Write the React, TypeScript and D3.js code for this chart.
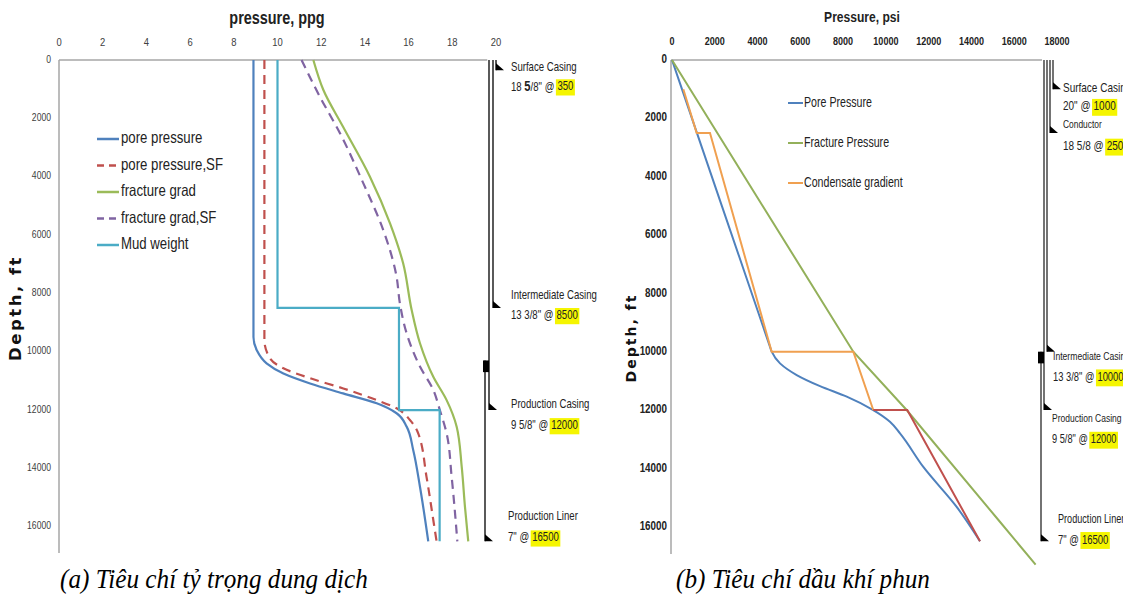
import React, { useEffect, useRef } from "react";
import * as d3 from "d3";

const W = 1123;
const H = 595;
const SANS = "'Liberation Sans',Arial,sans-serif";

// ---------- Left chart (ppg) ----------
const ppgTicks = [0, 2, 4, 6, 8, 10, 12, 14, 16, 18, 20];
const depthTicks = [0, 2000, 4000, 6000, 8000, 10000, 12000, 14000, 16000];

const poreDepth = [0, 9500, 9950, 10400, 10750, 11090, 11430, 11770, 12110, 12570, 13370, 14630, 16500];
const porePpg = [8.9, 8.9, 9.05, 9.5, 10.27, 11.49, 13.0, 14.54, 15.45, 15.91, 16.21, 16.52, 16.9];

const poreSFDepth = [0, 9600, 10230, 10570, 10910, 11260, 11660, 11940, 12340, 12800, 14290, 15770, 16500];
const poreSFPpg = [9.4, 9.4, 9.66, 10.27, 11.49, 13.01, 14.54, 15.45, 16.06, 16.44, 16.82, 17.13, 17.28];

const fracDepth = [0, 1030, 2290, 4000, 5600, 6970, 8570, 9710, 10860, 11660, 12570, 13940, 15320, 16500];
const fracPpg = [11.64, 12.1, 13.0, 14.23, 15.15, 15.75, 16.14, 16.52, 17.13, 17.74, 18.2, 18.43, 18.58, 18.73];

const fracSFDepth = [0, 1260, 2510, 4230, 5830, 7430, 8340, 9370, 10510, 11310, 12000, 12800, 14290, 16500];
const fracSFPpg = [11.1, 11.94, 12.86, 13.93, 14.84, 15.45, 15.6, 15.91, 16.52, 17.13, 17.43, 17.74, 17.97, 18.23];

const mudDepth = [0, 8500, 8500, 12000, 12000, 16500];
const mudPpg = [10, 10, 15.56, 15.56, 17.42, 17.42];

const legendLabelsL = ["pore pressure", "pore pressure,SF", "fracture grad", "fracture grad,SF", "Mud weight"];

const casingNameL = ["Surface Casing", "Intermediate Casing", "Production Casing", "Production Liner"];
const casingSizeL = ["18 5/8\"", "13 3/8\"", "9 5/8\"", "7\""];
const casingShoeL = [350, 8500, 12000, 16500];
const casingTopL = [0, 0, 0, 10300];
const hangerL = [10300, 10700];

// ---------- Right chart (psi) ----------
const psiTicks = [0, 2000, 4000, 6000, 8000, 10000, 12000, 14000, 16000, 18000];

const porePsiDepth = [0, 5000, 9800, 10000, 10400, 10800, 11180, 11540, 12000, 12400, 12800, 13950, 15320, 16500];
const porePsi = [0, 2330, 4567, 4660, 5050, 5830, 6920, 8170, 9410, 10190, 10660, 11750, 13310, 14400];

const fracPsiDepth = [0, 10000, 12000, 15830, 17300];
const fracPsi = [0, 8476, 10970, 15330, 17000];

const condDepth = [1000, 2500, 2500, 10000, 10000, 12000];
const condPsi = [530, 1153, 1776, 4660, 8476, 9410];

const condLowDepth = [12000, 12000, 16500];
const condLowPsi = [9410, 11000, 14400];

const legendLabelsR = ["Pore Pressure", "Fracture Pressure", "Condensate gradient"];

const casingNameR = ["Surface Casing", "Conductor", "Intermediate Casing", "Production Casing", "Production Liner"];
const casingSizeR = ["20\"", "18 5/8", "13 3/8\"", "9 5/8\"", "7\""];
const casingShoeR = [1000, 2500, 10000, 12000, 16500];
const casingTopR = [0, 0, 0, 0, 10000];
const hangerR = [10000, 10400];

const captionA = "(a) Tiêu chí tỷ trọng dung dịch";
const captionB = "(b) Tiêu chí dầu khí phun";

type TOpt = { size: number; sx?: number; anchor?: string; weight?: string; fill?: string; family?: string };

function addText(g: any, x: number, y: number, txt: string | null, o: TOpt) {
  const sx = o.sx ?? 0.82;
  const t = g.append("text")
    .attr("transform", `translate(${x},${y}) scale(${sx},1)`)
    .attr("text-anchor", o.anchor || "start")
    .attr("dominant-baseline", "middle")
    .attr("font-family", o.family || SANS)
    .attr("font-size", o.size)
    .attr("font-weight", o.weight || "normal")
    .attr("fill", o.fill || "#222");
  if (txt !== null) t.text(txt);
  return t;
}

export default function App() {
  const ref = useRef<SVGSVGElement>(null);

  useEffect(() => {
    const svg = d3.select(ref.current!);
    svg.selectAll("*").remove();
    svg.append("rect").attr("width", W).attr("height", H).attr("fill", "#fff");

    const yD = d3.scaleLinear().domain([0, 16850]).range([60, 551.5]);
    const xL = d3.scaleLinear().domain([0, 20]).range([59, 496]);
    const xR = d3.scaleLinear().domain([0, 18000]).range([672, 1057]);

    const axisColor = "#a6a6a6";

    const shoe = (g: any, x: number, y: number) =>
      g.append("path").attr("d", `M${x},${y - 7}L${x},${y}L${x + 8},${y}Z`).attr("fill", "#000");

    const drawLabel = (g: any, x: number, yName: number, yNum: number, name: string, pre: string, num: string,
      fsName: number, fs: number, sx: number, boldIdx: number | null) => {
      addText(g, x, yName, name, { size: fsName, sx });
      const t = addText(g, x, yNum, null, { size: fs, sx });
      if (boldIdx !== null) {
        t.append("tspan").text(pre.slice(0, boldIdx));
        t.append("tspan").attr("font-weight", "bold").attr("font-size", fs + 2).text(pre.slice(boldIdx, boldIdx + 1));
        t.append("tspan").text(pre.slice(boldIdx + 1));
      } else {
        t.text(pre);
      }
      const len = (t.node() as SVGTextElement).getComputedTextLength() * sx;
      const nx = x + len + 3;
      const nt = addText(g, nx, yNum, num, { size: fs, sx });
      const nl = (nt.node() as SVGTextElement).getComputedTextLength() * sx;
      g.insert("rect", () => nt.node()).attr("x", nx - 1.5).attr("y", yNum - fs * 0.66)
        .attr("width", nl + 3).attr("height", fs * 1.35).attr("fill", "#f5f500");
    };

    // ===== LEFT CHART =====
    const gL = svg.append("g");
    gL.append("line").attr("x1", xL(0)).attr("x2", xL(0)).attr("y1", yD(0)).attr("y2", 553)
      .attr("stroke", axisColor).attr("stroke-width", 1.5);
    gL.append("line").attr("x1", xL(0)).attr("x2", xL(19.6)).attr("y1", yD(0)).attr("y2", yD(0))
      .attr("stroke", axisColor).attr("stroke-width", 1.5);

    ppgTicks.forEach((d) => addText(gL, xL(d), 43, String(d), { size: 11.5, anchor: "middle", fill: "#404040" }));
    depthTicks.forEach((d) => addText(gL, 51, yD(d), String(d), { size: 10.5, anchor: "end", fill: "#404040" }));

    addText(gL, 277, 19, "pressure, ppg", { size: 18.5, sx: 0.78, anchor: "middle", weight: "bold", fill: "#222" });
    gL.append("text").attr("transform", "translate(16,308) rotate(-90)").attr("text-anchor", "middle")
      .attr("dominant-baseline", "middle").attr("font-family", "'DejaVu Sans',sans-serif").attr("font-weight", "bold")
      .attr("font-size", 16.5).attr("letter-spacing", 2.5).attr("fill", "#111").text("Depth, ft");

    const lineL = (xs: number[], ds: number[], curve: any) =>
      d3.line<number>().x((_, i) => xL(xs[i])).y((_, i) => yD(ds[i])).curve(curve)(xs as any);

    const seriesL = [
      { xs: porePpg, ds: poreDepth, color: "#4f81bd", dash: null, curve: d3.curveMonotoneY },
      { xs: poreSFPpg, ds: poreSFDepth, color: "#c0504d", dash: "9,6", curve: d3.curveMonotoneY },
      { xs: fracPpg, ds: fracDepth, color: "#9bbb59", dash: null, curve: d3.curveMonotoneY },
      { xs: fracSFPpg, ds: fracSFDepth, color: "#8064a2", dash: "9,6", curve: d3.curveMonotoneY },
      { xs: mudPpg, ds: mudDepth, color: "#4bacc6", dash: null, curve: d3.curveLinear },
    ];
    seriesL.forEach((s) => {
      gL.append("path").attr("d", lineL(s.xs, s.ds, s.curve)!).attr("fill", "none")
        .attr("stroke", s.color).attr("stroke-width", 2.2)
        .attr("stroke-dasharray", s.dash || null);
    });

    legendLabelsL.forEach((lab, i) => {
      const y = 139 + i * 26.5;
      const s = seriesL[i];
      gL.append("line").attr("x1", 97).attr("x2", 119).attr("y1", y).attr("y2", y)
        .attr("stroke", s.color).attr("stroke-width", 2.5).attr("stroke-dasharray", s.dash ? "7,5" : null);
      addText(gL, 121, y, lab, { size: 16.5, sx: 0.8, fill: "#222" });
    });

    const casXL = [496, 493, 489, 485];
    casingShoeL.forEach((d, i) => {
      gL.append("line").attr("x1", casXL[i]).attr("x2", casXL[i]).attr("y1", yD(casingTopL[i])).attr("y2", yD(d))
        .attr("stroke", "#000").attr("stroke-width", 1.3);
      shoe(gL, casXL[i], yD(d));
    });
    gL.append("rect").attr("x", 483).attr("y", yD(hangerL[0])).attr("width", 6)
      .attr("height", yD(hangerL[1]) - yD(hangerL[0])).attr("fill", "#000");

    const dyL = [[-2, 17], [-12, 8], [-5, 16], [-24, -3]];
    casingShoeL.forEach((d, i) => {
      const y = yD(d);
      drawLabel(gL, i === 3 ? 508 : 511, y + dyL[i][0], y + dyL[i][1], casingNameL[i],
        `${casingSizeL[i]} @`, String(d), 12, 12, 0.8, i === 0 ? 3 : null);
    });

    // ===== RIGHT CHART =====
    const gR = svg.append("g");
    gR.append("line").attr("x1", xR(0) - 1).attr("x2", xR(0) - 1).attr("y1", yD(0)).attr("y2", 554)
      .attr("stroke", axisColor).attr("stroke-width", 1.5);
    gR.append("line").attr("x1", xR(0) - 1).attr("x2", 1042).attr("y1", yD(0)).attr("y2", yD(0))
      .attr("stroke", axisColor).attr("stroke-width", 1.5);

    psiTicks.forEach((d) => addText(gR, xR(d), 42, String(d), { size: 11, anchor: "middle", weight: "bold", fill: "#222" }));
    depthTicks.forEach((d) => addText(gR, 667, yD(d), String(d), { size: 12, anchor: "end", weight: "bold", fill: "#222" }));

    addText(gR, 862, 18, "Pressure, psi", { size: 15.5, sx: 0.78, anchor: "middle", weight: "bold", fill: "#222" });
    gR.append("text").attr("transform", "translate(632,338) rotate(-90)").attr("text-anchor", "middle")
      .attr("dominant-baseline", "middle").attr("font-family", "'DejaVu Sans',sans-serif").attr("font-weight", "bold")
      .attr("font-size", 14).attr("letter-spacing", 2).attr("fill", "#111").text("Depth, ft");

    const lineR = (xs: number[], ds: number[], curve: any) =>
      d3.line<number>().x((_, i) => xR(xs[i])).y((_, i) => yD(ds[i])).curve(curve)(xs as any);

    const seriesR = [
      { xs: porePsi, ds: porePsiDepth, color: "#4f81bd", curve: d3.curveMonotoneY },
      { xs: fracPsi, ds: fracPsiDepth, color: "#93b05a", curve: d3.curveLinear },
      { xs: condPsi, ds: condDepth, color: "#f0a050", curve: d3.curveLinear },
    ];
    seriesR.forEach((s) => {
      gR.append("path").attr("d", lineR(s.xs, s.ds, s.curve)!).attr("fill", "none")
        .attr("stroke", s.color).attr("stroke-width", 2);
    });
    gR.append("path").attr("d", lineR(condLowPsi, condLowDepth, d3.curveLinear)!).attr("fill", "none")
      .attr("stroke", "#c0504d").attr("stroke-width", 2);

    legendLabelsR.forEach((lab, i) => {
      const y = 103 + i * 40;
      gR.append("line").attr("x1", 788).attr("x2", 803).attr("y1", y).attr("y2", y)
        .attr("stroke", seriesR[i].color).attr("stroke-width", 2);
      addText(gR, 804, y, lab, { size: 14, sx: 0.76, fill: "#222" });
    });

    const casXR = [1053, 1050, 1047, 1044, 1041];
    casingShoeR.forEach((d, i) => {
      gR.append("line").attr("x1", casXR[i]).attr("x2", casXR[i]).attr("y1", yD(casingTopR[i])).attr("y2", yD(d))
        .attr("stroke", "#000").attr("stroke-width", 1.1);
      shoe(gR, casXR[i], yD(d));
    });
    gR.append("rect").attr("x", 1038).attr("y", yD(hangerR[0])).attr("width", 6)
      .attr("height", yD(hangerR[1]) - yD(hangerR[0])).attr("fill", "#000");

    const dyR = [[0, 18], [-8, 14], [5, 26], [9, 30], [-21, -1]];
    const xRL = [1063, 1063, 1053, 1052, 1058];
    const fsNameR = [12.5, 10.5, 11.5, 11.5, 12];
    const fsNumR = [12.5, 12.5, 12.5, 12.5, 12.5];
    const sxR = [0.8, 0.8, 0.75, 0.74, 0.76];
    casingShoeR.forEach((d, i) => {
      const y = yD(d);
      drawLabel(gR, xRL[i], y + dyR[i][0], y + dyR[i][1], casingNameR[i], `${casingSizeR[i]} @`, String(d),
        fsNameR[i], fsNumR[i], sxR[i], null);
    });

    // captions
    const serif = "'Liberation Serif','Times New Roman',serif";
    svg.append("text").attr("transform", "translate(60,588) scale(0.9,1)").attr("font-family", serif)
      .attr("font-style", "italic").attr("font-size", 28).attr("fill", "#000").text(captionA);
    svg.append("text").attr("transform", "translate(676,588) scale(0.9,1)").attr("font-family", serif)
      .attr("font-style", "italic").attr("font-size", 28).attr("fill", "#000").text(captionB);
  }, []);

  return (
    <svg ref={ref} width={W} height={H} style={{ position: "absolute", left: 0, top: 0, display: "block" }} />
  );
}
